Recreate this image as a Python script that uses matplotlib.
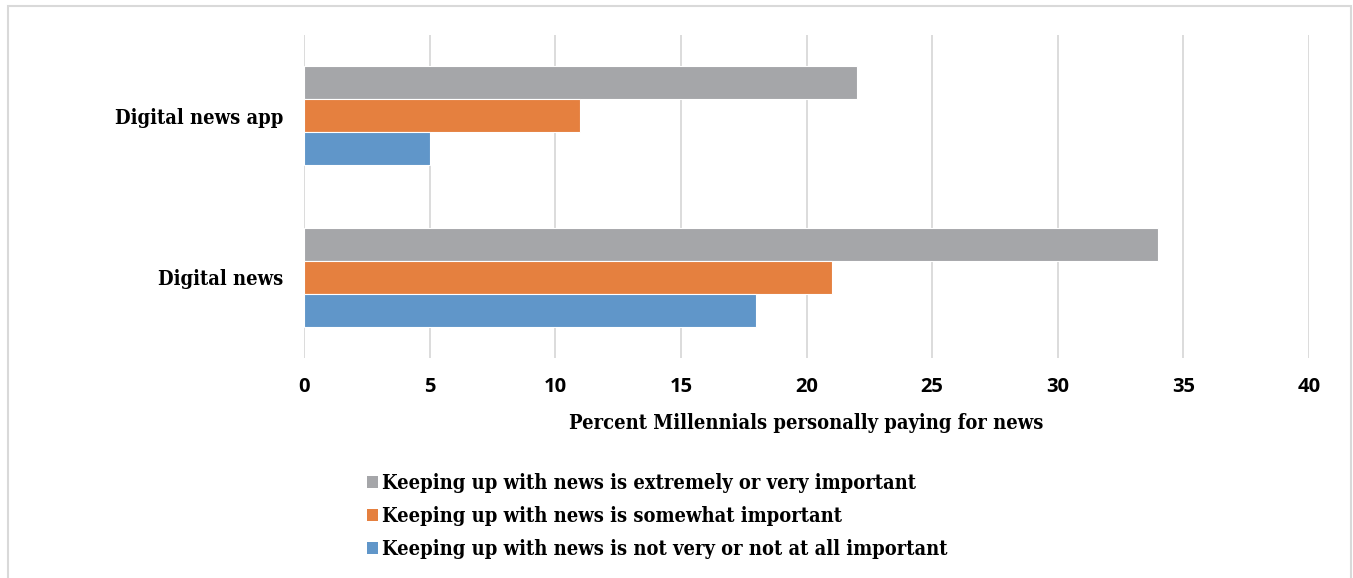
import numpy as np
import matplotlib.pyplot as plt
from matplotlib.patches import Rectangle, Patch

# share of millennials paying for news, by how important keeping up with news is
categories = ["Digital news", "Digital news app"]
series_names = [
    "Keeping up with news is extremely or very important",
    "Keeping up with news is somewhat important",
    "Keeping up with news is not very or not at all important",
]
very_important = [34, 22]
somewhat_important = [21, 11]
not_important = [18, 5]
xticks = [0, 5, 10, 15, 20, 25, 30, 35, 40]

colors = ["#a5a6a9", "#e5803f", "#6096c9"]
serif = dict(family="DejaVu Serif", weight="bold", stretch="condensed")

fig = plt.figure(figsize=(13.53, 5.78), dpi=100)
ax = fig.add_axes([304 / 1353, 1 - 358 / 578, (1309 - 304) / 1353, (358 - 35) / 578])

y = np.arange(len(categories))
h = 0.205
vals = [very_important, somewhat_important, not_important]
offsets = [h, 0, -h]
for v, off, c in zip(vals, offsets, colors):
    ax.barh(y + off, v, height=h, color=c, edgecolor="white", linewidth=0.8, zorder=3)

ax.set_xlim(0, 40)
ax.set_ylim(-0.5, 1.5)
ax.set_xticks(xticks)
ax.set_xticklabels([str(t) for t in xticks], family="Open Sans", weight="bold", fontsize=14.5)
ax.set_yticks(y)
ax.set_yticklabels(categories, fontsize=14.4, **serif)
ax.tick_params(length=0)
ax.tick_params(axis="x", pad=14)
ax.tick_params(axis="y", pad=15)
ax.grid(axis="x", color="#d9d9d9", linewidth=1.3, zorder=0)
for s in ax.spines.values():
    s.set_visible(False)

ax.set_xlabel("Percent Millennials personally paying for news", fontsize=14.4, labelpad=11, **serif)

handles = [Patch(facecolor=c, edgecolor="none") for c in colors]
fig.legend(handles, series_names, loc="upper left", bbox_to_anchor=(357 / 1353, 1 - 463 / 578),
           frameon=False, borderpad=0, handlelength=0.55, handleheight=0.55,
           handletextpad=0.2, labelspacing=0.64, prop=dict(size=14.4, **serif))

# light outer frame
fig.patches.append(Rectangle((8 / 1353, -0.05), (1351 - 8) / 1353, 1.05 - 6 / 578,
                             transform=fig.transFigure, fill=False,
                             edgecolor="#d9d9d9", linewidth=1.5))

fig.savefig("out.png", dpi=100)
